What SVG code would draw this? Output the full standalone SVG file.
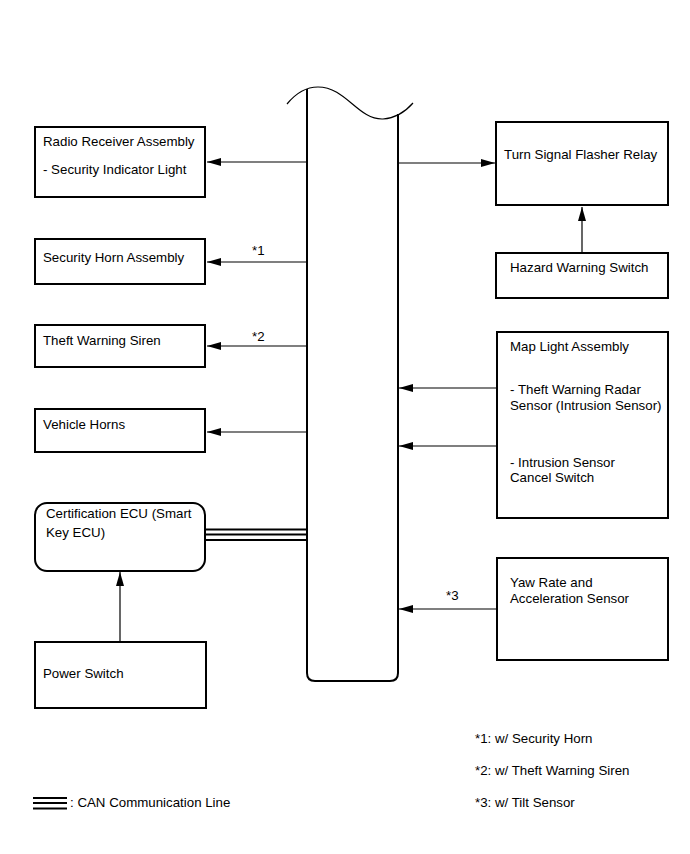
<svg xmlns="http://www.w3.org/2000/svg" width="690" height="854" viewBox="0 0 690 854">
<style>
.box{fill:#fff;stroke:#000;stroke-width:2}
.ln{stroke:#000;stroke-width:1.2;fill:none}
.t{font-family:"Liberation Sans",Arial,sans-serif;font-size:13.3px;fill:#000}
</style>
<defs>
<marker id="ah" viewBox="0 0 14 8" refX="14" refY="4" markerWidth="14" markerHeight="8" markerUnits="userSpaceOnUse" orient="auto">
<path d="M0,0 L14,4 L0,8 z" fill="#000"/>
</marker>
</defs>
<rect width="690" height="854" fill="#fff"/>
<g id="bus">
<path d="M307,89 L307,673 Q307,681 315,681 L390,681 Q398,681 398,673 L398,114" fill="#fff" stroke="#000" stroke-width="2"/>
<path d="M287,104 C296,93 306,87 318,87 C346,87 358,120 383,119 C397,118 406,111 413,103" fill="none" stroke="#000" stroke-width="1.2"/>
</g>
<g id="radio">
<rect class="box" x="35" y="127" width="170" height="70"/>
<text class="t" x="43" y="146">Radio Receiver Assembly</text>
<text class="t" x="43" y="174">- Security Indicator Light</text>
</g>
<g id="horn">
<rect class="box" x="35" y="239" width="170" height="45"/>
<text class="t" x="43" y="262">Security Horn Assembly</text>
</g>
<g id="siren">
<rect class="box" x="35" y="325" width="170" height="42"/>
<text class="t" x="43" y="345">Theft Warning Siren</text>
</g>
<g id="vhorns">
<rect class="box" x="35" y="409" width="170" height="43"/>
<text class="t" x="43" y="429">Vehicle Horns</text>
</g>
<g id="certecu">
<rect class="box" x="35" y="503" width="170" height="68" rx="12" ry="12"/>
<text class="t" x="46" y="518">Certification ECU (Smart</text>
<text class="t" x="46" y="537">Key ECU)</text>
</g>
<g id="power">
<rect class="box" x="35" y="642" width="171" height="66"/>
<text class="t" x="43" y="678">Power Switch</text>
</g>
<g id="flasher">
<rect class="box" x="496" y="122" width="172" height="83"/>
<text class="t" x="504" y="159">Turn Signal Flasher Relay</text>
</g>
<g id="hazard">
<rect class="box" x="496" y="253" width="172" height="45"/>
<text class="t" x="510" y="272">Hazard Warning Switch</text>
</g>
<g id="maplight">
<rect class="box" x="497" y="332" width="171" height="186"/>
<text class="t" x="510" y="351">Map Light Assembly</text>
<text class="t" x="510" y="394">- Theft Warning Radar</text>
<text class="t" x="510" y="410">Sensor (Intrusion Sensor)</text>
<text class="t" x="510" y="467">- Intrusion Sensor</text>
<text class="t" x="510" y="482">Cancel Switch</text>
</g>
<g id="yaw">
<rect class="box" x="497" y="558" width="171" height="102"/>
<text class="t" x="510" y="587">Yaw Rate and</text>
<text class="t" x="510" y="603">Acceleration Sensor</text>
</g>
<g id="connectors">
<line class="ln" x1="307" y1="162" x2="207" y2="162" marker-end="url(#ah)"/>
<line class="ln" x1="307" y1="262" x2="207" y2="262" marker-end="url(#ah)"/>
<line class="ln" x1="307" y1="346" x2="207" y2="346" marker-end="url(#ah)"/>
<line class="ln" x1="307" y1="432" x2="207" y2="432" marker-end="url(#ah)"/>
<line class="ln" x1="398" y1="163" x2="495" y2="163" marker-end="url(#ah)"/>
<line class="ln" x1="582" y1="253" x2="582" y2="207" marker-end="url(#ah)"/>
<line class="ln" x1="497" y1="388" x2="399" y2="388" marker-end="url(#ah)"/>
<line class="ln" x1="497" y1="446" x2="399" y2="446" marker-end="url(#ah)"/>
<line class="ln" x1="497" y1="609" x2="399" y2="609" marker-end="url(#ah)"/>
<line class="ln" x1="120" y1="642" x2="120" y2="572" marker-end="url(#ah)"/>
<g stroke="#000" stroke-width="2">
<line x1="205" y1="529.5" x2="307" y2="529.5"/>
<line x1="205" y1="534.5" x2="307" y2="534.5"/>
<line x1="205" y1="540" x2="307" y2="540"/>
</g>
<text class="t" x="252" y="255">*1</text>
<text class="t" x="252" y="341">*2</text>
<text class="t" x="446" y="600">*3</text>
</g>
<g id="legend">
<g stroke="#000" stroke-width="2">
<line x1="33" y1="798" x2="67" y2="798"/>
<line x1="33" y1="803" x2="67" y2="803"/>
<line x1="33" y1="808.5" x2="67" y2="808.5"/>
</g>
<text class="t" x="70" y="807">: CAN Communication Line</text>
<text class="t" x="475" y="743">*1: w/ Security Horn</text>
<text class="t" x="475" y="775">*2: w/ Theft Warning Siren</text>
<text class="t" x="475" y="807">*3: w/ Tilt Sensor</text>
</g>
</svg>
